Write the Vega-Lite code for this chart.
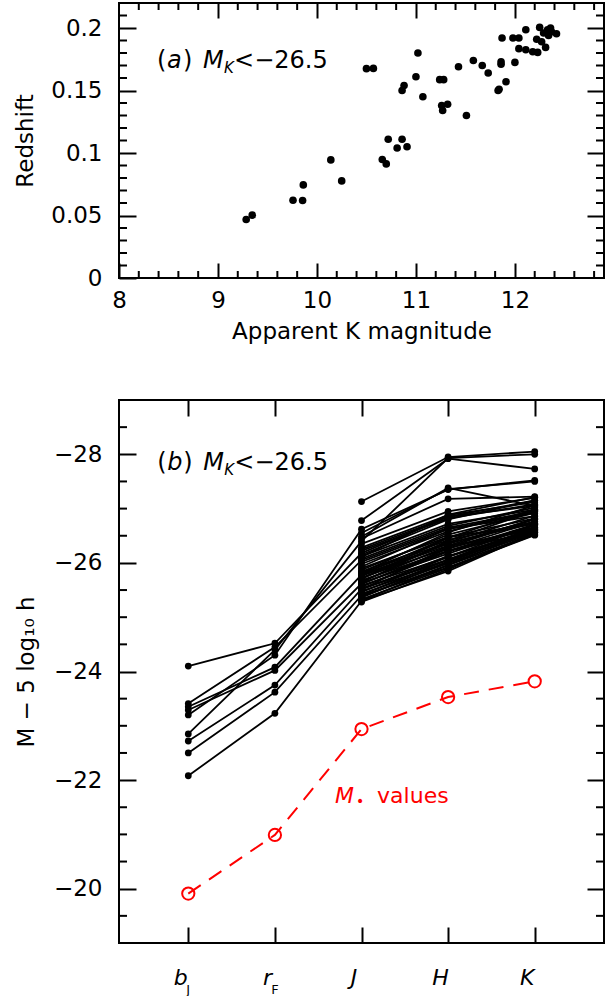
{
  "$schema": "https://vega.github.io/schema/vega-lite/v6.json",
  "padding": {"left": 13, "top": 1, "right": 4, "bottom": 0},
  "spacing": 54,
  "datasets": {
    "xminor": [{"v": 8.2}, {"v": 8.4}, {"v": 8.6}, {"v": 8.8}, {"v": 9.2}, {"v": 9.4}, {"v": 9.6}, {"v": 9.8}, {"v": 10.2}, {"v": 10.4}, {"v": 10.6}, {"v": 10.8}, {"v": 11.2}, {"v": 11.4}, {"v": 11.6}, {"v": 11.8}, {"v": 12.2}, {"v": 12.4}, {"v": 12.6}, {"v": 12.8}],
    "zminor": [{"v": 0.01}, {"v": 0.02}, {"v": 0.03}, {"v": 0.04}, {"v": 0.06}, {"v": 0.07}, {"v": 0.08}, {"v": 0.09}, {"v": 0.11}, {"v": 0.12}, {"v": 0.13}, {"v": 0.14}, {"v": 0.16}, {"v": 0.17}, {"v": 0.18}, {"v": 0.19}, {"v": 0.21}],
    "mminor": [{"v": -28.5}, {"v": -27.5}, {"v": -27}, {"v": -26.5}, {"v": -25.5}, {"v": -25}, {"v": -24.5}, {"v": -23.5}, {"v": -23}, {"v": -22.5}, {"v": -21.5}, {"v": -21}, {"v": -20.5}, {"v": -19.5}],
    "bands": [{"b": 1, "sub": "J"}, {"b": 2, "sub": "F"}]
  },
  "config": {
    "view": {"stroke": "#000", "strokeWidth": 2},
    "font": "DejaVu Sans",
    "axis": {"domain": false, "grid": false, "ticks": true, "labelFont": "DejaVu Sans", "labelFontSize": 23, "labelColor": "#000", "titleFont": "DejaVu Sans", "titleFontSize": 23, "titleFontWeight": "normal", "titleColor": "#000", "tickColor": "black", "tickOpacity": 1, "tickWidth": 2, "labelFlush": false, "labelOverlap": false}
  },
  "vconcat": [
    {
      "width": 485,
      "height": 275,
      "data": {"values": [
        {"k": 9.285, "z": 0.0468}, {"k": 9.346, "z": 0.0503}, {"k": 9.758, "z": 0.0622}, {"k": 9.855, "z": 0.062}, {"k": 9.862, "z": 0.0745},
        {"k": 10.14, "z": 0.0945}, {"k": 10.25, "z": 0.0777}, {"k": 10.66, "z": 0.0948}, {"k": 10.70, "z": 0.0913}, {"k": 10.72, "z": 0.111},
        {"k": 10.81, "z": 0.104}, {"k": 10.86, "z": 0.111}, {"k": 10.91, "z": 0.105}, {"k": 10.50, "z": 0.1675}, {"k": 10.57, "z": 0.1677},
        {"k": 10.86, "z": 0.150}, {"k": 10.88, "z": 0.154}, {"k": 11.0, "z": 0.161}, {"k": 11.02, "z": 0.180}, {"k": 11.07, "z": 0.145},
        {"k": 11.24, "z": 0.1587}, {"k": 11.28, "z": 0.1587}, {"k": 11.26, "z": 0.138}, {"k": 11.32, "z": 0.139}, {"k": 11.27, "z": 0.134},
        {"k": 11.43, "z": 0.169}, {"k": 11.51, "z": 0.130}, {"k": 11.58, "z": 0.174}, {"k": 11.67, "z": 0.170}, {"k": 11.73, "z": 0.164},
        {"k": 11.83, "z": 0.150}, {"k": 11.84, "z": 0.151}, {"k": 11.86, "z": 0.173}, {"k": 11.86, "z": 0.171}, {"k": 11.91, "z": 0.157},
        {"k": 11.87, "z": 0.192}, {"k": 11.98, "z": 0.192}, {"k": 12.04, "z": 0.192}, {"k": 12.0, "z": 0.1725}, {"k": 12.04, "z": 0.1835},
        {"k": 12.11, "z": 0.1986}, {"k": 12.11, "z": 0.1826}, {"k": 12.18, "z": 0.181}, {"k": 12.22, "z": 0.191}, {"k": 12.23, "z": 0.1805},
        {"k": 12.25, "z": 0.2005}, {"k": 12.31, "z": 0.1845}, {"k": 12.33, "z": 0.1986}, {"k": 12.34, "z": 0.194}, {"k": 12.36, "z": 0.200},
        {"k": 12.42, "z": 0.1954}, {"k": 12.29, "z": 0.196}, {"k": 12.27, "z": 0.189}, {"k": 12.37, "z": 0.197}
      ]},
      "layer": [
        {
          "mark": {"type": "circle", "size": 58, "color": "#000", "opacity": 1},
          "encoding": {
            "x": {"field": "k", "type": "quantitative", "scale": {"domain": [8, 12.9], "nice": false, "zero": false},
                  "axis": {"orient": "bottom", "values": [8, 9, 10, 11, 12], "tickSize": 15, "offset": -15, "labelPadding": 11, "labelExpr": "format(datum.value, '~g')", "title": "Apparent K magnitude", "titlePadding": 8}},
            "y": {"field": "z", "type": "quantitative", "scale": {"domain": [0, 0.22], "nice": false, "zero": false},
                  "axis": {"orient": "left", "values": [0, 0.05, 0.1, 0.15, 0.2], "tickSize": 17, "offset": -17, "labelPadding": 17, "labelExpr": "format(datum.value, '~g')", "title": "Redshift", "titlePadding": 13}}
          }
        },
        {
          "mark": {"type": "circle", "opacity": 0},
          "encoding": {
            "x": {"field": "k", "type": "quantitative",
                  "axis": {"orient": "top", "labels": false, "title": null, "tickSize": 15, "offset": -15, "values": [9, 10, 11, 12]}},
            "y": {"field": "z", "type": "quantitative",
                  "axis": {"orient": "right", "labels": false, "title": null, "tickSize": 17, "offset": -17, "values": [0.05, 0.1, 0.15, 0.2]}}
          }
        },
        {
          "data": {"name": "xminor"},
          "mark": {"type": "tick", "orient": "vertical", "color": "#000", "opacity": 1, "size": 7, "thickness": 2, "yOffset": -3.5},
          "encoding": {"x": {"field": "v", "type": "quantitative", "axis": null}, "y": {"datum": 0, "type": "quantitative", "axis": null}}
        },
        {
          "data": {"name": "xminor"},
          "mark": {"type": "tick", "orient": "vertical", "color": "#000", "opacity": 1, "size": 7, "thickness": 2, "yOffset": 3.5},
          "encoding": {"x": {"field": "v", "type": "quantitative", "axis": null}, "y": {"datum": 0.22, "type": "quantitative", "axis": null}}
        },
        {
          "data": {"name": "zminor"},
          "mark": {"type": "tick", "orient": "horizontal", "color": "#000", "opacity": 1, "size": 8, "thickness": 2, "xOffset": 4},
          "encoding": {"y": {"field": "v", "type": "quantitative", "axis": null}, "x": {"datum": 8, "type": "quantitative", "axis": null}}
        },
        {
          "data": {"name": "zminor"},
          "mark": {"type": "tick", "orient": "horizontal", "color": "#000", "opacity": 1, "size": 8, "thickness": 2, "xOffset": -4},
          "encoding": {"y": {"field": "v", "type": "quantitative", "axis": null}, "x": {"datum": 12.9, "type": "quantitative", "axis": null}}
        },
        {
          "data": {"values": [{}]},
          "mark": {"type": "text", "text": "(", "align": "left", "baseline": "alphabetic", "fontSize": 24, "color": "#000"},
          "encoding": {"x": {"datum": 8.385, "type": "quantitative", "axis": null}, "y": {"datum": 0.1683, "type": "quantitative", "axis": null}}
        },
        {
          "data": {"values": [{}]},
          "mark": {"type": "text", "text": "a", "align": "left", "baseline": "alphabetic", "fontSize": 24, "fontStyle": "italic", "color": "#000", "dx": 10},
          "encoding": {"x": {"datum": 8.385, "type": "quantitative", "axis": null}, "y": {"datum": 0.1683, "type": "quantitative", "axis": null}}
        },
        {
          "data": {"values": [{}]},
          "mark": {"type": "text", "text": ")", "align": "left", "baseline": "alphabetic", "fontSize": 24, "color": "#000", "dx": 26},
          "encoding": {"x": {"datum": 8.385, "type": "quantitative", "axis": null}, "y": {"datum": 0.1683, "type": "quantitative", "axis": null}}
        },
        {
          "data": {"values": [{}]},
          "mark": {"type": "text", "text": "M", "align": "left", "baseline": "alphabetic", "fontSize": 24, "fontStyle": "italic", "color": "#000", "dx": 46},
          "encoding": {"x": {"datum": 8.385, "type": "quantitative", "axis": null}, "y": {"datum": 0.1683, "type": "quantitative", "axis": null}}
        },
        {
          "data": {"values": [{}]},
          "mark": {"type": "text", "text": "K", "align": "left", "baseline": "alphabetic", "fontSize": 15, "fontStyle": "italic", "color": "#000", "dx": 67, "dy": 5},
          "encoding": {"x": {"datum": 8.385, "type": "quantitative", "axis": null}, "y": {"datum": 0.1683, "type": "quantitative", "axis": null}}
        },
        {
          "data": {"values": [{}]},
          "mark": {"type": "text", "text": "<−26.5", "align": "left", "baseline": "alphabetic", "fontSize": 24, "color": "#000", "dx": 77},
          "encoding": {"x": {"datum": 8.385, "type": "quantitative", "axis": null}, "y": {"datum": 0.1683, "type": "quantitative", "axis": null}}
        }
      ],
      "resolve": {"axis": {"x": "independent", "y": "independent"}}
    },
    {
      "width": 485,
      "height": 543,
      "layer": [
        {
          "data": {"name": "mags", "values": [
            {"id": "o1", "b": 1, "m": -24.10}, {"id": "o1", "b": 2, "m": -24.52}, {"id": "o1", "b": 3, "m": -26.18}, {"id": "o1", "b": 4, "m": -26.85}, {"id": "o1", "b": 5, "m": -27.05},
            {"id": "o2", "b": 1, "m": -23.41}, {"id": "o2", "b": 2, "m": -24.45}, {"id": "o2", "b": 3, "m": -26.05}, {"id": "o2", "b": 4, "m": -26.65}, {"id": "o2", "b": 5, "m": -26.95},
            {"id": "o3", "b": 1, "m": -23.35}, {"id": "o3", "b": 2, "m": -24.08}, {"id": "o3", "b": 3, "m": -25.78}, {"id": "o3", "b": 4, "m": -26.35}, {"id": "o3", "b": 5, "m": -26.80},
            {"id": "o4", "b": 1, "m": -23.29}, {"id": "o4", "b": 2, "m": -24.02}, {"id": "o4", "b": 3, "m": -25.62}, {"id": "o4", "b": 4, "m": -26.22}, {"id": "o4", "b": 5, "m": -26.65},
            {"id": "o5", "b": 1, "m": -23.20}, {"id": "o5", "b": 2, "m": -24.30}, {"id": "o5", "b": 3, "m": -26.62}, {"id": "o5", "b": 4, "m": -27.35}, {"id": "o5", "b": 5, "m": -27.52},
            {"id": "o6", "b": 1, "m": -22.85}, {"id": "o6", "b": 2, "m": -24.40}, {"id": "o6", "b": 3, "m": -26.40}, {"id": "o6", "b": 4, "m": -27.93}, {"id": "o6", "b": 5, "m": -28.00},
            {"id": "o7", "b": 1, "m": -22.72}, {"id": "o7", "b": 2, "m": -23.75}, {"id": "o7", "b": 3, "m": -25.52}, {"id": "o7", "b": 4, "m": -26.05}, {"id": "o7", "b": 5, "m": -26.58},
            {"id": "o8", "b": 1, "m": -22.50}, {"id": "o8", "b": 2, "m": -23.62}, {"id": "o8", "b": 3, "m": -25.40}, {"id": "o8", "b": 4, "m": -25.92}, {"id": "o8", "b": 5, "m": -26.52},
            {"id": "o9", "b": 1, "m": -22.08}, {"id": "o9", "b": 2, "m": -23.23}, {"id": "o9", "b": 3, "m": -25.30}, {"id": "o9", "b": 4, "m": -25.85}, {"id": "o9", "b": 5, "m": -26.55},
            {"id": "j1", "b": 3, "m": -27.13}, {"id": "j1", "b": 4, "m": -27.95}, {"id": "j1", "b": 5, "m": -28.05},
            {"id": "j2", "b": 3, "m": -26.78}, {"id": "j2", "b": 4, "m": -27.92}, {"id": "j2", "b": 5, "m": -27.73},
            {"id": "j3", "b": 3, "m": -26.55}, {"id": "j3", "b": 4, "m": -27.36}, {"id": "j3", "b": 5, "m": -27.50},
            {"id": "j4", "b": 3, "m": -26.48}, {"id": "j4", "b": 4, "m": -27.38}, {"id": "j4", "b": 5, "m": -27.05},
            {"id": "j5", "b": 3, "m": -26.45}, {"id": "j5", "b": 4, "m": -27.18}, {"id": "j5", "b": 5, "m": -27.22},
            {"id": "j6", "b": 3, "m": -26.35}, {"id": "j6", "b": 4, "m": -26.95}, {"id": "j6", "b": 5, "m": -27.20},
            {"id": "j7", "b": 3, "m": -26.28}, {"id": "j7", "b": 4, "m": -26.88}, {"id": "j7", "b": 5, "m": -27.12},
            {"id": "j8", "b": 3, "m": -26.22}, {"id": "j8", "b": 4, "m": -26.82}, {"id": "j8", "b": 5, "m": -27.08},
            {"id": "j9", "b": 3, "m": -26.15}, {"id": "j9", "b": 4, "m": -26.80}, {"id": "j9", "b": 5, "m": -27.15},
            {"id": "j10", "b": 3, "m": -26.12}, {"id": "j10", "b": 4, "m": -26.72}, {"id": "j10", "b": 5, "m": -26.98},
            {"id": "j11", "b": 3, "m": -26.08}, {"id": "j11", "b": 4, "m": -26.68}, {"id": "j11", "b": 5, "m": -27.02},
            {"id": "j12", "b": 3, "m": -26.02}, {"id": "j12", "b": 4, "m": -26.62}, {"id": "j12", "b": 5, "m": -26.92},
            {"id": "j13", "b": 3, "m": -25.98}, {"id": "j13", "b": 4, "m": -26.58}, {"id": "j13", "b": 5, "m": -26.97},
            {"id": "j14", "b": 3, "m": -25.93}, {"id": "j14", "b": 4, "m": -26.63}, {"id": "j14", "b": 5, "m": -26.86},
            {"id": "j15", "b": 3, "m": -25.90}, {"id": "j15", "b": 4, "m": -26.48}, {"id": "j15", "b": 5, "m": -26.82},
            {"id": "j16", "b": 3, "m": -25.87}, {"id": "j16", "b": 4, "m": -26.52}, {"id": "j16", "b": 5, "m": -26.92},
            {"id": "j17", "b": 3, "m": -25.84}, {"id": "j17", "b": 4, "m": -26.42}, {"id": "j17", "b": 5, "m": -26.76},
            {"id": "j18", "b": 3, "m": -25.81}, {"id": "j18", "b": 4, "m": -26.38}, {"id": "j18", "b": 5, "m": -26.87},
            {"id": "j19", "b": 3, "m": -25.79}, {"id": "j19", "b": 4, "m": -26.47}, {"id": "j19", "b": 5, "m": -26.72},
            {"id": "j20", "b": 3, "m": -25.76}, {"id": "j20", "b": 4, "m": -26.32}, {"id": "j20", "b": 5, "m": -26.81},
            {"id": "j21", "b": 3, "m": -25.73}, {"id": "j21", "b": 4, "m": -26.27}, {"id": "j21", "b": 5, "m": -26.66},
            {"id": "j22", "b": 3, "m": -25.71}, {"id": "j22", "b": 4, "m": -26.37}, {"id": "j22", "b": 5, "m": -26.73},
            {"id": "j23", "b": 3, "m": -25.68}, {"id": "j23", "b": 4, "m": -26.22}, {"id": "j23", "b": 5, "m": -26.71},
            {"id": "j24", "b": 3, "m": -25.66}, {"id": "j24", "b": 4, "m": -26.31}, {"id": "j24", "b": 5, "m": -26.61},
            {"id": "j25", "b": 3, "m": -25.63}, {"id": "j25", "b": 4, "m": -26.17}, {"id": "j25", "b": 5, "m": -26.69},
            {"id": "j26", "b": 3, "m": -25.61}, {"id": "j26", "b": 4, "m": -26.26}, {"id": "j26", "b": 5, "m": -26.76},
            {"id": "j27", "b": 3, "m": -25.58}, {"id": "j27", "b": 4, "m": -26.11}, {"id": "j27", "b": 5, "m": -26.63},
            {"id": "j28", "b": 3, "m": -25.56}, {"id": "j28", "b": 4, "m": -26.21}, {"id": "j28", "b": 5, "m": -26.59},
            {"id": "j29", "b": 3, "m": -25.53}, {"id": "j29", "b": 4, "m": -26.06}, {"id": "j29", "b": 5, "m": -26.66},
            {"id": "j30", "b": 3, "m": -25.51}, {"id": "j30", "b": 4, "m": -26.13}, {"id": "j30", "b": 5, "m": -26.56},
            {"id": "j31", "b": 3, "m": -25.48}, {"id": "j31", "b": 4, "m": -26.01}, {"id": "j31", "b": 5, "m": -26.61},
            {"id": "j32", "b": 3, "m": -25.46}, {"id": "j32", "b": 4, "m": -26.11}, {"id": "j32", "b": 5, "m": -26.71},
            {"id": "j33", "b": 3, "m": -25.43}, {"id": "j33", "b": 4, "m": -25.99}, {"id": "j33", "b": 5, "m": -26.56},
            {"id": "j34", "b": 3, "m": -25.41}, {"id": "j34", "b": 4, "m": -26.06}, {"id": "j34", "b": 5, "m": -26.63},
            {"id": "j35", "b": 3, "m": -25.38}, {"id": "j35", "b": 4, "m": -25.96}, {"id": "j35", "b": 5, "m": -26.53},
            {"id": "j36", "b": 3, "m": -25.36}, {"id": "j36", "b": 4, "m": -26.03}, {"id": "j36", "b": 5, "m": -26.59},
            {"id": "j37", "b": 3, "m": -25.33}, {"id": "j37", "b": 4, "m": -25.91}, {"id": "j37", "b": 5, "m": -26.51},
            {"id": "j38", "b": 3, "m": -25.31}, {"id": "j38", "b": 4, "m": -25.96}, {"id": "j38", "b": 5, "m": -26.61},
            {"id": "j39", "b": 3, "m": -25.28}, {"id": "j39", "b": 4, "m": -25.88}, {"id": "j39", "b": 5, "m": -26.56},
            {"id": "j40", "b": 3, "m": -25.64}, {"id": "j40", "b": 4, "m": -26.41}, {"id": "j40", "b": 5, "m": -26.96},
            {"id": "j41", "b": 3, "m": -25.82}, {"id": "j41", "b": 4, "m": -26.56}, {"id": "j41", "b": 5, "m": -27.06},
            {"id": "j42", "b": 3, "m": -25.71}, {"id": "j42", "b": 4, "m": -26.46}, {"id": "j42", "b": 5, "m": -26.99},
            {"id": "j43", "b": 3, "m": -26.11}, {"id": "j43", "b": 4, "m": -26.89}, {"id": "j43", "b": 5, "m": -27.21},
            {"id": "j44", "b": 3, "m": -25.51}, {"id": "j44", "b": 4, "m": -26.29}, {"id": "j44", "b": 5, "m": -26.81},
            {"id": "j45", "b": 3, "m": -26.25}, {"id": "j45", "b": 4, "m": -26.85}, {"id": "j45", "b": 5, "m": -27.15}
          ]},
          "mark": {"type": "line", "color": "#000", "strokeWidth": 1.8},
          "encoding": {
            "x": {"field": "b", "type": "quantitative", "scale": {"domain": [0.2, 5.8], "nice": false, "zero": false},
                  "axis": {"orient": "bottom", "values": [1, 2, 3, 4, 5], "tickSize": 16, "offset": -16, "labelPadding": 24, "labelFontSize": 22, "labelFontStyle": "italic",
                           "labelExpr": "datum.value == 1 ? 'b' : datum.value == 2 ? 'r' : datum.value == 3 ? 'J' : datum.value == 4 ? 'H' : 'K'",
                           "labelOffset": -8, "title": null}},
            "y": {"field": "m", "type": "quantitative", "scale": {"domain": [-29, -19], "nice": false, "zero": false, "reverse": true},
                  "axis": {"orient": "left", "values": [-28, -26, -24, -22, -20], "tickSize": 17, "offset": -17, "labelPadding": 17, "labelExpr": "'−' + abs(datum.value)", "title": "M − 5 log₁₀ h", "titlePadding": 15}},
            "detail": {"field": "id"},
            "order": {"field": "b"}
          }
        },
        {
          "data": {"name": "mags"},
          "mark": {"type": "circle", "color": "#000", "size": 46, "opacity": 1},
          "encoding": {
            "x": {"field": "b", "type": "quantitative", "axis": null},
            "y": {"field": "m", "type": "quantitative", "axis": null}
          }
        },
        {
          "data": {"name": "mstar", "values": [
            {"b": 1, "m": -19.91}, {"b": 2, "m": -20.99}, {"b": 3, "m": -22.94}, {"b": 4, "m": -23.53}, {"b": 5, "m": -23.82}
          ]},
          "mark": {"type": "line", "color": "#ff0000", "strokeWidth": 2, "strokeDash": [15, 10]},
          "encoding": {
            "x": {"field": "b", "type": "quantitative", "axis": null},
            "y": {"field": "m", "type": "quantitative", "axis": null}
          }
        },
        {
          "data": {"name": "mstar"},
          "mark": {"type": "point", "shape": "circle", "filled": false, "color": "#ff0000", "size": 150, "strokeWidth": 2, "opacity": 1},
          "encoding": {
            "x": {"field": "b", "type": "quantitative", "axis": null},
            "y": {"field": "m", "type": "quantitative", "axis": null}
          }
        },
        {
          "data": {"name": "mstar"},
          "mark": {"type": "circle", "opacity": 0},
          "encoding": {
            "x": {"field": "b", "type": "quantitative", "axis": {"orient": "top", "labels": false, "title": null, "values": [1, 2, 3, 4, 5], "tickSize": 16, "offset": -16}},
            "y": {"field": "m", "type": "quantitative", "axis": {"orient": "right", "labels": false, "title": null, "tickSize": 17, "offset": -17, "values": [-28, -26, -24, -22, -20]}}
          }
        },
        {
          "data": {"name": "mminor"},
          "mark": {"type": "tick", "orient": "horizontal", "color": "#000", "opacity": 1, "size": 8, "thickness": 2, "xOffset": 4},
          "encoding": {"y": {"field": "v", "type": "quantitative", "axis": null}, "x": {"datum": 0.2, "type": "quantitative", "axis": null}}
        },
        {
          "data": {"name": "mminor"},
          "mark": {"type": "tick", "orient": "horizontal", "color": "#000", "opacity": 1, "size": 8, "thickness": 2, "xOffset": -4},
          "encoding": {"y": {"field": "v", "type": "quantitative", "axis": null}, "x": {"datum": 5.8, "type": "quantitative", "axis": null}}
        },
        {
          "data": {"name": "bands"},
          "mark": {"type": "text", "align": "center", "baseline": "alphabetic", "fontSize": 13, "color": "#000"},
          "encoding": {
            "x": {"field": "b", "type": "quantitative", "axis": null},
            "y": {"datum": -18.06, "type": "quantitative", "axis": null},
            "text": {"field": "sub"}
          }
        },
        {
          "data": {"values": [{}]},
          "mark": {"type": "text", "text": "(", "align": "left", "baseline": "alphabetic", "fontSize": 24, "color": "#000"},
          "encoding": {"x": {"datum": 0.643, "type": "quantitative", "axis": null}, "y": {"datum": -27.71, "type": "quantitative", "axis": null}}
        },
        {
          "data": {"values": [{}]},
          "mark": {"type": "text", "text": "b", "align": "left", "baseline": "alphabetic", "fontSize": 24, "fontStyle": "italic", "color": "#000", "dx": 10},
          "encoding": {"x": {"datum": 0.643, "type": "quantitative", "axis": null}, "y": {"datum": -27.71, "type": "quantitative", "axis": null}}
        },
        {
          "data": {"values": [{}]},
          "mark": {"type": "text", "text": ")", "align": "left", "baseline": "alphabetic", "fontSize": 24, "color": "#000", "dx": 26},
          "encoding": {"x": {"datum": 0.643, "type": "quantitative", "axis": null}, "y": {"datum": -27.71, "type": "quantitative", "axis": null}}
        },
        {
          "data": {"values": [{}]},
          "mark": {"type": "text", "text": "M", "align": "left", "baseline": "alphabetic", "fontSize": 24, "fontStyle": "italic", "color": "#000", "dx": 46},
          "encoding": {"x": {"datum": 0.643, "type": "quantitative", "axis": null}, "y": {"datum": -27.71, "type": "quantitative", "axis": null}}
        },
        {
          "data": {"values": [{}]},
          "mark": {"type": "text", "text": "K", "align": "left", "baseline": "alphabetic", "fontSize": 15, "fontStyle": "italic", "color": "#000", "dx": 67, "dy": 5},
          "encoding": {"x": {"datum": 0.643, "type": "quantitative", "axis": null}, "y": {"datum": -27.71, "type": "quantitative", "axis": null}}
        },
        {
          "data": {"values": [{}]},
          "mark": {"type": "text", "text": "<−26.5", "align": "left", "baseline": "alphabetic", "fontSize": 24, "color": "#000", "dx": 77},
          "encoding": {"x": {"datum": 0.643, "type": "quantitative", "axis": null}, "y": {"datum": -27.71, "type": "quantitative", "axis": null}}
        },
        {
          "data": {"values": [{}]},
          "mark": {"type": "text", "text": "M", "align": "left", "baseline": "alphabetic", "fontSize": 22, "fontStyle": "italic", "color": "#ff0000"},
          "encoding": {"x": {"datum": 2.695, "type": "quantitative", "axis": null}, "y": {"datum": -21.57, "type": "quantitative", "axis": null}}
        },
        {
          "data": {"values": [{}]},
          "mark": {"type": "text", "text": "•", "align": "left", "baseline": "alphabetic", "fontSize": 14, "color": "#ff0000", "dx": 21, "dy": 3},
          "encoding": {"x": {"datum": 2.695, "type": "quantitative", "axis": null}, "y": {"datum": -21.57, "type": "quantitative", "axis": null}}
        },
        {
          "data": {"values": [{}]},
          "mark": {"type": "text", "text": "values", "align": "left", "baseline": "alphabetic", "fontSize": 22, "color": "#ff0000", "dx": 42},
          "encoding": {"x": {"datum": 2.695, "type": "quantitative", "axis": null}, "y": {"datum": -21.57, "type": "quantitative", "axis": null}}
        }
      ],
      "resolve": {"axis": {"x": "independent", "y": "independent"}}
    }
  ]
}
